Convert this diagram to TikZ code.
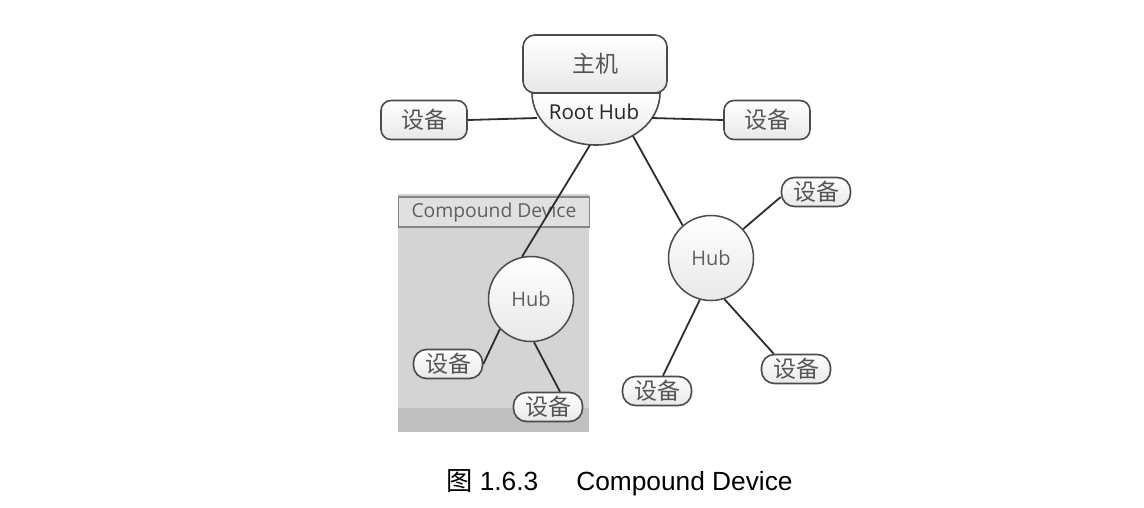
\documentclass[tikz,border=0pt]{standalone}
\usepackage{fontspec}
\usetikzlibrary{calc}
\setmainfont{Liberation Sans}
\newfontfamily\cjk{Noto Sans CJK SC}
\newfontfamily\ui{Open Sans}
\definecolor{cdbg}{RGB}{212,212,212}
\definecolor{cdband}{RGB}{192,192,192}
\definecolor{cdlab}{RGB}{224,224,224}
\definecolor{cdlabline}{RGB}{135,135,135}
\definecolor{edge}{RGB}{75,75,75}
\definecolor{txt}{RGB}{85,85,85}
\definecolor{conn}{RGB}{45,45,45}
\begin{document}
\begin{tikzpicture}[x=1pt,y=-1pt,
  box/.style={draw=edge, line width=1.6pt, top color=white, bottom color=gray!18, inner sep=0pt, text=txt},
  bigdev/.style={box, rounded corners=10pt, minimum width=86pt, minimum height=39pt, font=\cjk\fontsize{23}{26}\selectfont},
  smalldev/.style={box, rounded corners=13pt, minimum width=69pt, minimum height=29pt, font=\cjk\fontsize{23}{26}\selectfont},
  hub/.style={box, circle, minimum size=85pt, line width=1.5pt, text=gray!75!black, font=\ui\fontsize{20}{24}\selectfont},
  wire/.style={draw=conn, line width=1.8pt}
]
\useasboundingbox (0,0) rectangle (1144,507);

% compound device background
\fill[cdbg] (398,194) rectangle (589,432);
\fill[cdband] (398,408) rectangle (589,432);
\node[draw=cdlabline, fill=cdlab, line width=1.4pt, minimum width=191pt, minimum height=30pt, inner sep=0pt,
  text=gray!75!black, font=\ui\fontsize{19.3}{22}\selectfont] (cdlabel) at (494,212) {Compound Device};

% root hub half-ellipse
\draw[line width=1.6pt, draw=edge, top color=white, bottom color=gray!18]
  (532,93) arc[start angle=180, end angle=360, x radius=64pt, y radius=52pt] -- cycle;
\node[text=black!85, font=\ui\fontsize{20.5}{24}\selectfont] (roothub) at (594,112) {Root Hub};
\coordinate (rhL) at (537,118);
\coordinate (rhR) at (652,118);
\coordinate (rhB1) at (590,145);
\coordinate (rhB2) at (633,136);

% host
\node[box, rounded corners=12pt, minimum width=144pt, minimum height=58pt, font=\cjk\fontsize{23}{26}\selectfont] (host) at (595,64) {主机};

% devices around root hub
\node[bigdev] (dL) at (424,120) {设备};
\node[bigdev] (dR) at (767,120) {设备};

% hubs
\node[hub] (hubL) at (531,299) {Hub};
\node[hub] (hubR) at (711,258) {Hub};

% small devices
\node[smalldev] (dC1) at (448,364) {设备};
\node[smalldev] (dC2) at (548,407) {设备};
\node[smalldev] (dR1) at (816,192) {设备};
\node[smalldev] (dR2) at (657,391) {设备};
\node[smalldev] (dR3) at (796,369) {设备};

% connectors
\draw[wire] (dL.east) -- (rhL);
\draw[wire] (rhR) -- (dR.west);
\draw[wire] (rhB1) -- (hubL.102);
\draw[wire] (rhB2) -- (hubR.131);
\draw[wire] (hubL.224) -- (dC1.east);
\draw[wire] (hubL.274) -- ($(dC2.north)+(12,0)$);
\draw[wire] (hubR.42) -- ($(dR1.west)+(0,5)$);
\draw[wire] (hubR.255) -- ($(dR2.north)+(6,0)$);
\draw[wire] (hubR.288) -- ($(dR3.north west)+(13,0)$);

% caption
\node[anchor=base west, inner sep=0pt, font=\fontsize{26.3}{30}\selectfont] (caption) at (446,490)
  {{\cjk 图} 1.6.3\hspace{38pt}Compound Device};
\end{tikzpicture}
\end{document}
